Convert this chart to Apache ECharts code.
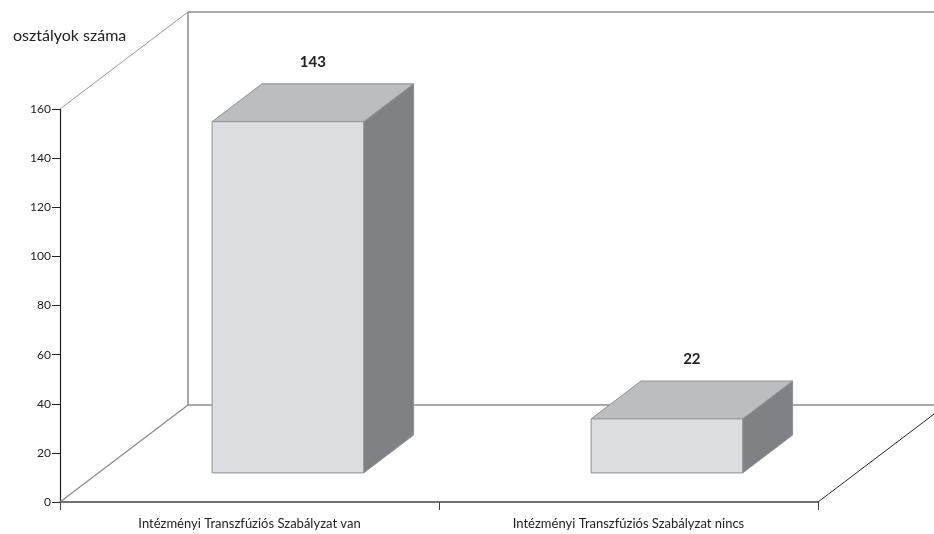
<!DOCTYPE html>
<html>
<head>
<meta charset="utf-8">
<script src="https://cdn.jsdelivr.net/npm/echarts@6/dist/echarts.min.js"></script>
<style>
    html, body { margin: 0; padding: 0; background: #fff; }
    #chart { width: 934px; height: 534px; }
</style>
</head>
<body>
<div id="chart"></div>
<script>
// adatok
const categories = ['Intézményi Transzfúziós Szabályzat van', 'Intézményi Transzfúziós Szabályzat nincs']
const values = [143, 22]
const yTicks = [0, 20, 40, 60, 80, 100, 120, 140, 160]

// 3D mélység (pixel)
const DX = 128
const DY = 97
const Z0 = 0.3   // oszlop eleje
const Z1 = 0.69  // oszlop hátulja

let myChart = echarts.init(document.getElementById('chart'))

function renderWalls(params, api) {
    let cs = params.coordSys
    let x0 = cs.x, x1 = cs.x + cs.width
    let yt = cs.y, yb = cs.y + cs.height
    let gray = { stroke: '#8c8c8c', lineWidth: 1.5 }
    let line = (a, b, c, d, st) => ({ type: 'line', shape: { x1: a, y1: b, x2: c, y2: d }, style: st, silent: true })
    return {
        type: 'group',
        children: [
            line(x0 + DX, yt - DY, x1 + DX, yt - DY, gray),
            line(x0 + DX, yb - DY, x1 + DX, yb - DY, gray),
            line(x0 + DX, yt - DY, x0 + DX, yb - DY, gray),
            line(x0, yt, x0 + DX, yt - DY, { stroke: '#999', lineWidth: 1 }),
            line(x0, yb, x0 + DX, yb - DY, { stroke: '#888', lineWidth: 1.2 }),
            line(x1, yb, x1 + DX, yb - DY, { stroke: '#222', lineWidth: 1 })
        ]
    }
}

function renderBar(params, api) {
    let idx = api.value(0)
    let val = api.value(1)
    let base = api.coord([idx, 0])
    let top = api.coord([idx, val])
    let bw = api.size([1, 0])[0] * 0.4
    let xl = base[0] - bw / 2 + DX * Z0
    let xr = xl + bw
    let y0 = base[1] - DY * Z0
    let y1 = top[1] - DY * Z0
    let bdx = DX * (Z1 - Z0)
    let bdy = DY * (Z1 - Z0)
    let edge = '#8f9093'
    return {
        type: 'group',
        children: [
            {
                type: 'polygon',
                shape: { points: [[xr, y1], [xr + bdx, y1 - bdy], [xr + bdx, y0 - bdy], [xr, y0]] },
                style: { fill: '#808184', stroke: edge, lineWidth: 1 }
            },
            {
                type: 'polygon',
                shape: { points: [[xl, y1], [xl + bdx, y1 - bdy], [xr + bdx, y1 - bdy], [xr, y1]] },
                style: { fill: '#bcbdbf', stroke: edge, lineWidth: 1 }
            },
            {
                type: 'rect',
                shape: { x: xl, y: y1, width: bw, height: y0 - y1 },
                style: { fill: '#dcdde0', stroke: edge, lineWidth: 1 }
            },
            {
                type: 'text',
                x: (xl + xr + bdx) / 2,
                y: y1 - bdy - 22,
                style: {
                    text: String(val),
                    fill: '#222',
                    font: 'bold 15px Lato',
                    align: 'center',
                    verticalAlign: 'middle'
                }
            }
        ]
    }
}

myChart.setOption({
    animation: false,
    title: {
        text: 'osztályok száma',
        left: 8,
        top: 23,
        textStyle: { fontFamily: 'Lato', fontSize: 16, fontWeight: 'normal', color: '#222' }
    },
    grid: {
        left: 60,
        right: 116,
        top: 109,
        bottom: 32
    },
    xAxis: {
        type: 'category',
        data: categories,
        axisLine: { lineStyle: { color: '#444', width: 1.5 } },
        axisTick: { show: true, length: 8, lineStyle: { color: '#444' } },
        axisLabel: { fontFamily: 'Lato', fontSize: 13, color: '#222', margin: 15 }
    },
    yAxis: {
        type: 'value',
        min: yTicks[0],
        max: yTicks[yTicks.length - 1],
        interval: 20,
        axisLine: { show: true, lineStyle: { color: '#222', width: 1.2 } },
        axisTick: { show: true, length: 8, lineStyle: { color: '#222' } },
        axisLabel: { fontFamily: 'Lato', fontSize: 12, color: '#222', margin: 9 },
        splitLine: { show: false }
    },
    series: [
        {
            type: 'custom',
            clip: false,
            silent: true,
            z: 1,
            renderItem: renderWalls,
            data: [[0, 0]]
        },
        {
            type: 'custom',
            clip: false,
            z: 3,
            renderItem: renderBar,
            data: values.map((v, i) => [i, v])
        }
    ]
})
</script>
</body>
</html>
